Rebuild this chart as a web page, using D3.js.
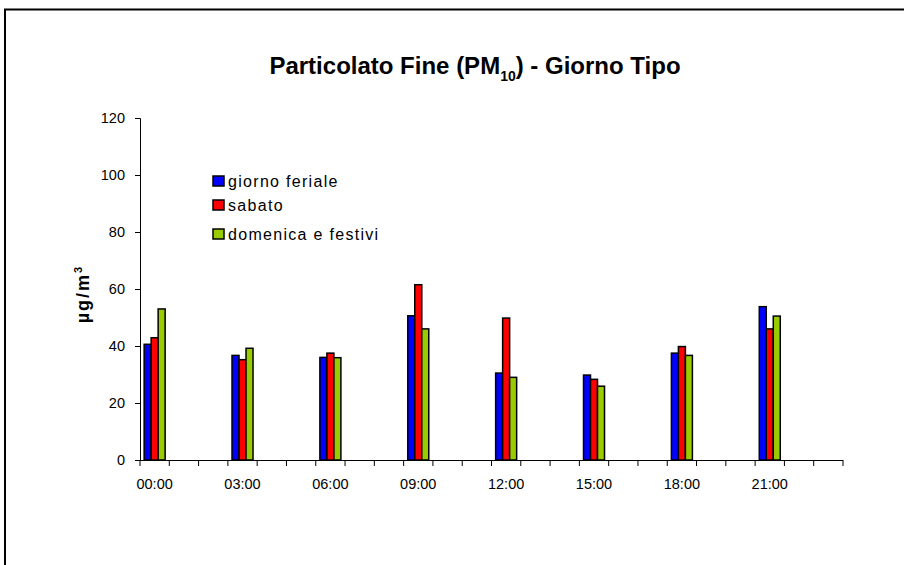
<!DOCTYPE html>
<html>
<head>
<meta charset="utf-8">
<script src="https://cdn.jsdelivr.net/npm/d3@7"></script>
<style>
  html, body { margin: 0; padding: 0; background: #fff; }
  svg { display: block; font-family: "Liberation Sans", Arial, sans-serif; }
</style>
</head>
<body>
<svg id="chart" width="904" height="565"></svg>
<script>
// ---- data ----
const hours = ["00:00","01:00","02:00","03:00","04:00","05:00","06:00","07:00","08:00","09:00","10:00","11:00",
               "12:00","13:00","14:00","15:00","16:00","17:00","18:00","19:00","20:00","21:00","22:00","23:00"];
const tickLabels = ["00:00","03:00","06:00","09:00","12:00","15:00","18:00","21:00"];
const seriesNames = ["giorno feriale", "sabato", "domenica e festivi"];
const seriesColors = ["#0000FF", "#FF0000", "#99CC00"];
const feriale = [40.6, 36.7, 36.0, 50.6, 30.5, 29.8, 37.5, 53.8];
const sabato  = [42.9, 35.2, 37.5, 61.5, 49.8, 28.3, 39.8, 46.0];
const festivi = [53.0, 39.2, 35.9, 46.0, 29.0, 25.9, 36.7, 50.5];
const yTicks = [0, 20, 40, 60, 80, 100, 120];

const seriesValues = [feriale, sabato, festivi];

const svg = d3.select("#chart");

// outer frame
svg.append("rect").attr("x", 5).attr("y", 9.5).attr("width", 1000).attr("height", 700)
  .attr("fill", "none").attr("stroke", "#000").attr("stroke-width", 2);

const x = d3.scaleBand().domain(hours).range([140, 843]).padding(0);
const y = d3.scaleLinear().domain([0, 120]).range([460, 118]);

const groupW = 21;
const inner = d3.scaleBand().domain(d3.range(3)).range([0, groupW]).padding(0);

// bars
tickLabels.forEach((h, i) => {
  const x0 = x(h) + (x.bandwidth() - groupW) / 2;
  seriesValues.forEach((vals, s) => {
    svg.append("rect")
      .attr("x", x0 + inner(s))
      .attr("y", y(vals[i]))
      .attr("width", inner.bandwidth())
      .attr("height", y(0) - y(vals[i]))
      .attr("fill", seriesColors[s])
      .attr("stroke", "#000")
      .attr("stroke-width", 1.5);
  });
});

// y axis
const yAxis = d3.axisLeft(y).tickValues(yTicks).tickSize(5).tickPadding(10);
const gy = svg.append("g").attr("transform", "translate(140,0)").call(yAxis);
gy.select(".domain").attr("stroke", "#000").attr("stroke-width", 1);
gy.selectAll("text").attr("font-size", 14.5).attr("fill", "#000")
  .attr("font-family", "'Liberation Sans', Arial, sans-serif");

// x axis: ticks at category boundaries
const boundaries = hours.map(h => x(h)).concat([x.range()[1]]);
const gx = svg.append("g");
gx.append("line").attr("x1", 140).attr("x2", 843).attr("y1", 460.5).attr("y2", 460.5)
  .attr("stroke", "#000").attr("stroke-width", 1);
gx.selectAll("line.tk").data(boundaries).enter().append("line")
  .attr("class", "tk")
  .attr("x1", d => d).attr("x2", d => d).attr("y1", 460).attr("y2", 466)
  .attr("stroke", "#000").attr("stroke-width", 1);
gx.selectAll("text").data(tickLabels).enter().append("text")
  .attr("x", d => x(d) + x.bandwidth() / 2)
  .attr("y", 489)
  .attr("text-anchor", "middle")
  .attr("font-size", 14.5)
  .attr("fill", "#000")
  .text(d => d);

// y label
const yl = svg.append("text")
  .attr("transform", "translate(89,294) rotate(-90)")
  .attr("text-anchor", "middle")
  .attr("font-size", 18)
  .attr("font-weight", "bold")
  .attr("letter-spacing", 2)
  .attr("fill", "#000");
yl.append("tspan").text("µg/m");
yl.append("tspan").attr("font-size", 11).attr("dy", -7).text("3");

// title
const title = svg.append("text")
  .attr("x", 475).attr("y", 74)
  .attr("text-anchor", "middle")
  .attr("font-size", 24)
  .attr("font-weight", "bold")
  .attr("fill", "#000");
title.append("tspan").text("Particolato Fine (PM");
title.append("tspan").attr("font-size", 14).attr("dy", 7).text("10");
title.append("tspan").attr("dy", -7).text(") - Giorno Tipo");

// legend
const legY = [181, 205, 234];
seriesNames.forEach((n, i) => {
  svg.append("rect").attr("x", 213).attr("y", legY[i] - 5).attr("width", 11).attr("height", 10)
    .attr("fill", seriesColors[i]).attr("stroke", "#000").attr("stroke-width", 1.5);
  svg.append("text").attr("x", 228).attr("y", legY[i] + 6)
    .attr("font-size", 16).attr("letter-spacing", 1.3).attr("fill", "#000").text(n);
});
</script>
</body>
</html>
